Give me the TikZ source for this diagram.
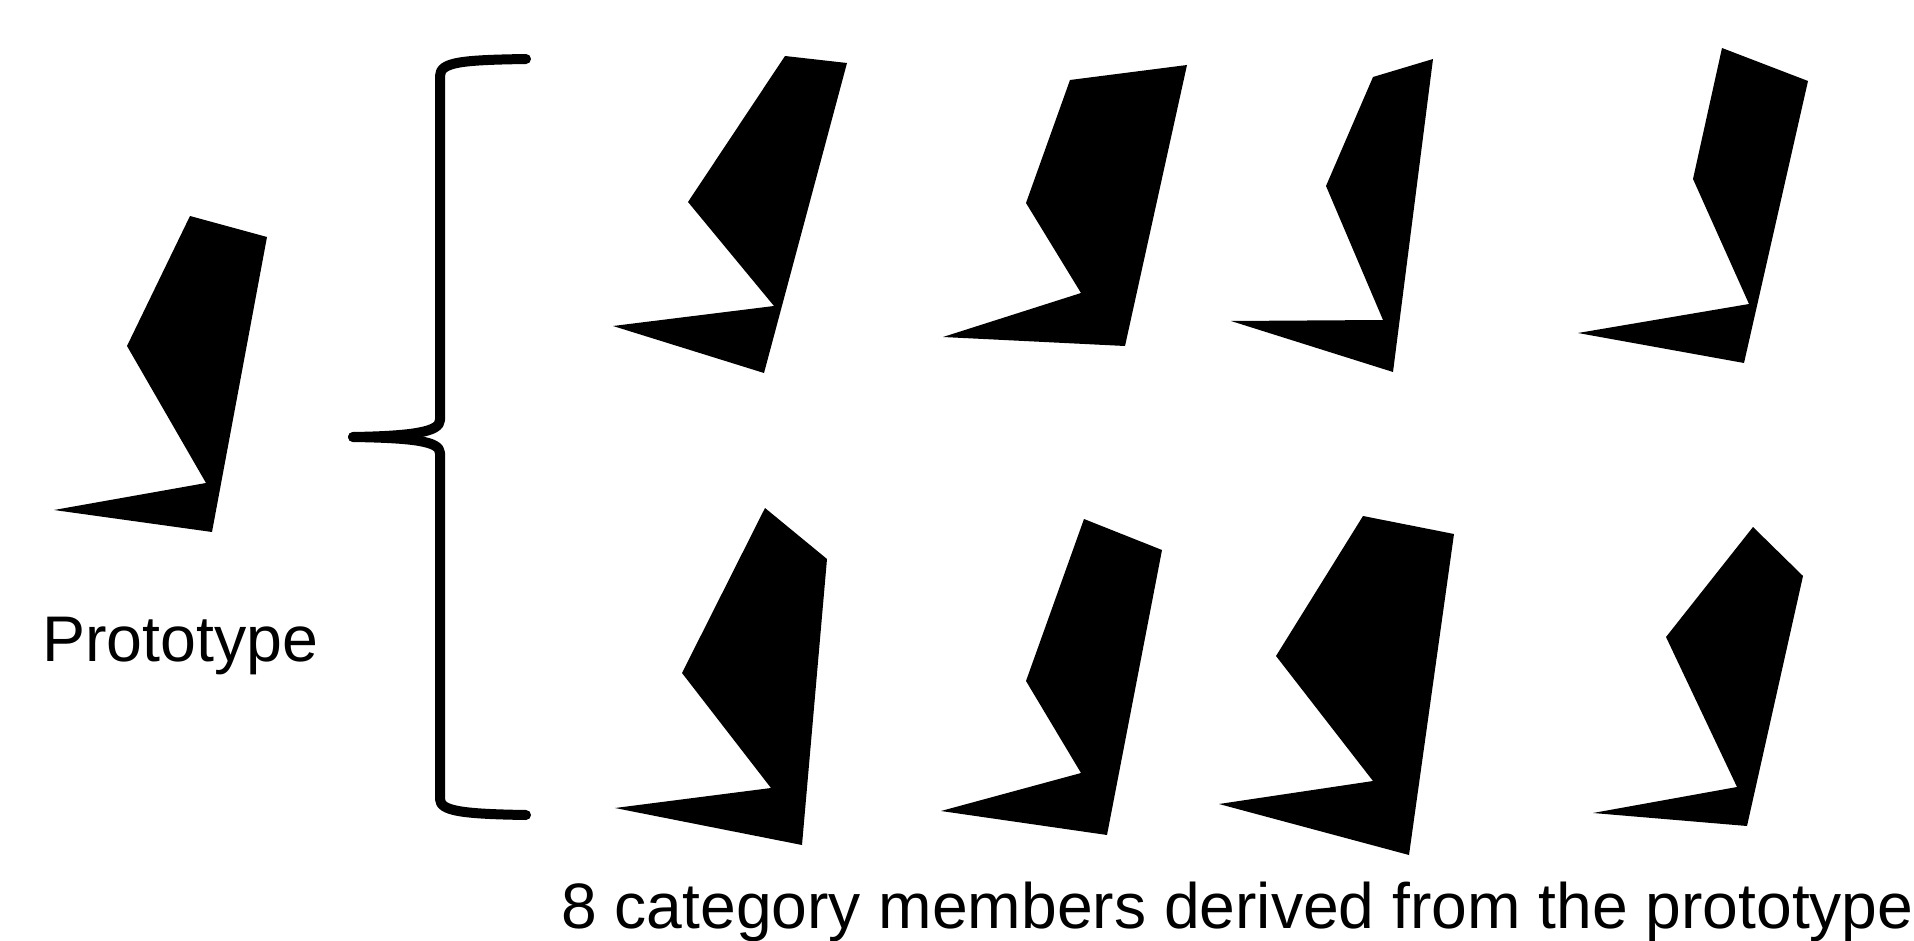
\documentclass[tikz,border=0pt]{standalone}
\usepackage{fontspec}
\setmainfont{Liberation Sans}
\begin{document}
\begin{tikzpicture}[x=1pt,y=-1pt,
  blob/.style={fill=black,draw=none},
  bracket/.style={line width=10pt,line cap=round,line join=round},
  lbl/.style={anchor=base west,inner sep=0pt}]
\useasboundingbox (0,0) rectangle (1914,941);
% prototype
\fill[blob] (190,216) -- (267,237) -- (212,532) -- (54,510) -- (206,483) -- (127,346) -- cycle;
% top row
\fill[blob] (785,56) -- (847,63) -- (764,373) -- (613,326) -- (774,306) -- (688,202) -- cycle;
\fill[blob] (1070,80) -- (1187,65) -- (1125,346) -- (943,337) -- (1081,293) -- (1026,203) -- cycle;
\fill[blob] (1373,77) -- (1433,59) -- (1393,372) -- (1231,321) -- (1383,320) -- (1326,186) -- cycle;
\fill[blob] (1722,48) -- (1808,81) -- (1744,363) -- (1578,333) -- (1749,304) -- (1693,179) -- cycle;
% bottom row
\fill[blob] (765,508) -- (827,559) -- (802,845) -- (615,808) -- (771,788) -- (682,673) -- cycle;
\fill[blob] (1084,519) -- (1162,550) -- (1107,835) -- (941,811) -- (1081,773) -- (1026,681) -- cycle;
\fill[blob] (1363,516) -- (1454,534) -- (1409,855) -- (1219,804) -- (1373,781) -- (1276,656) -- cycle;
\fill[blob] (1753,527) -- (1803,576) -- (1747,826) -- (1593,813) -- (1737,787) -- (1666,637) -- cycle;
% brace
\coordinate (btop) at (526,59);
\coordinate (btip) at (353,437);
\coordinate (bbot) at (526,815);
\draw[bracket] (btop) .. controls (462,60) and (440,62) .. (440,76) -- (440,420) .. controls (440,432) and (412,436) .. (btip);
\draw[bracket] (btip) .. controls (412,438) and (440,441) .. (440,453) -- (440,799) .. controls (440,811) and (462,814) .. (bbot);
% texts
\node[lbl,font=\fontsize{64.5}{70}\selectfont] (proto) at (42,661) {Prototype};
\node[lbl,font=\fontsize{64.2}{70}\selectfont] (caption) at (561,928) {8 category members derived from the prototype};
\end{tikzpicture}
\end{document}
